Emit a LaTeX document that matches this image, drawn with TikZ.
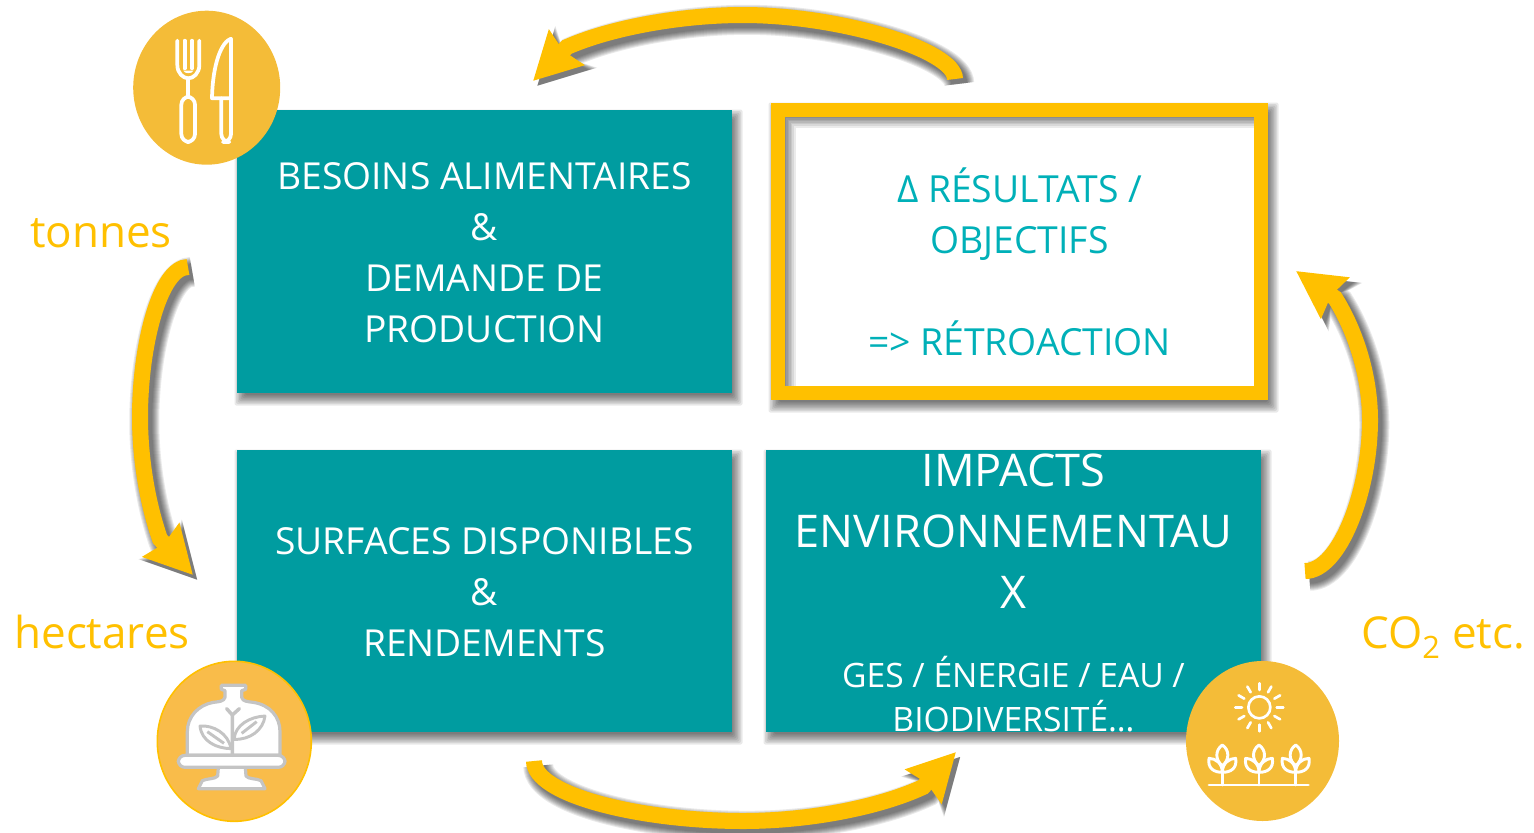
\documentclass[tikz,border=0pt]{standalone}
\usepackage{fontspec}
\setmainfont{Open Sans}
\usetikzlibrary{arrows.meta}
\definecolor{teal}{HTML}{009CA0}
\definecolor{tealtxt}{HTML}{00B0B8}
\definecolor{gold}{HTML}{FFC000}
\definecolor{disc}{HTML}{F4BC38}
\definecolor{disctwo}{HTML}{F9BC4A}
\definecolor{icongrey}{HTML}{C4C4C4}
\newcommand\fs[2]{\fontsize{#1}{#2}\selectfont}
\newcommand\boxshade[4]{%
  \foreach \e in {-4,-2.5,-1,0.5,2,3.5,5,6.5}{
    \fill[black,opacity=.085,rounded corners=1.5pt] (#1+4-\e,#2+6-\e) rectangle (#3+4+\e,#4+6+\e);
  }}
\newcommand\blockarrow[1]{%
  \foreach \e in {0,2,4,6,8,10,12,14}{
    \begin{scope}[transform canvas={xshift=3.2pt,yshift=-3.6pt}]
    \begin{scope}[transparency group,opacity=.085]
      \draw[black,line width=12pt+\e*.75pt,-{Stealth[length=35pt+\e*.4pt,width=36pt+\e*.5pt,inset=5pt+\e*.4pt]}] #1;
    \end{scope}
    \end{scope}
  }
  \draw[gold,line width=12pt,-{Stealth[length=35pt,width=36pt,inset=3pt]}] #1;}
\tikzset{
  tealbox/.style={fill=teal,text=white,inner sep=0pt,minimum width=371.25pt,minimum height=212pt,align=center,font=\fs{27.9}{38.25pt}},
  unitlabel/.style={text=gold,inner sep=0pt,anchor=base,font=\fs{33}{36pt}},
  iconline/.style={white,line width=2.8pt,line cap=round,line join=round},
  sprout/.pic={
    \draw[iconline,line width=2.2pt] (0,0)--(0,-38);
    \draw[iconline,line width=2.2pt] (0,-120) .. controls (-22,-105) and (-22,-75) .. (0,-58) .. controls (22,-75) and (22,-105) .. (0,-120);
    \draw[iconline,line width=2.2pt] (0,-38) .. controls (-25,-38) and (-45,-50) .. (-40,-80) .. controls (-20,-80) and (0,-65) .. (0,-38);
    \draw[iconline,line width=2.2pt] (0,-38) .. controls (25,-38) and (45,-50) .. (40,-80) .. controls (20,-80) and (0,-65) .. (0,-38);
  }
}
\begin{document}
\begin{tikzpicture}[x=.75pt,y=-.75pt]
\useasboundingbox (0,0) rectangle (1534,832);
% shadows of boxes
\boxshade{237}{110}{732}{393}
\boxshade{237}{450}{732}{732}
\boxshade{766}{450}{1261}{732}
\boxshade{771}{103}{1268}{400}
% boxes
\node[tealbox] (besoins) at (484.5,251.5) {\rule{0pt}{21.6pt}BESOINS ALIMENTAIRES\\\&\\DEMANDE DE\\PRODUCTION};
\node[tealbox] (surfaces) at (484.5,591) {\rule{0pt}{21.6pt}SURFACES DISPONIBLES\\\&\\RENDEMENTS};
\node[tealbox,font=\fs{33.8}{45.75pt}] (impacts) at (1013.5,591) {\rule{0pt}{27.5pt}IMPACTS\\ENVIRONNEMENTAU\\X\\[13.5pt]{\fs{25.2}{33pt}GES / ÉNERGIE / EAU /}\\[-12.5pt]{\fs{25.2}{33pt}BIODIVERSITÉ…}};
\node[draw=gold,line width=10.5pt,fill=white,inner sep=0pt,minimum width=362.25pt,minimum height=212.25pt,text=tealtxt,align=center,font=\fs{28}{38.25pt}] (resultats) at (1019.5,251.5) {\rule{0pt}{41pt}Δ RÉSULTATS /\\OBJECTIFS\\\mbox{}\\=> RÉTROACTION};
% inner shadow of framed box
\foreach \e in {1,2.5,4,5.5,7,9,11}{
  \fill[black,opacity=.08] (785,117) rectangle (1254,117+\e);
  \fill[black,opacity=.08] (785,117+\e) rectangle (785+\e,386);
}
% arrows
\coordinate (ta1) at (955,79);\coordinate (ta2) at (955,50);\coordinate (ta3) at (840,15);\coordinate (ta4) at (743,15);
\coordinate (ta5) at (680,15);\coordinate (ta6) at (610,28);\coordinate (ta7) at (567,47);\coordinate (ta8) at (533,81);
\blockarrow{(ta1) .. controls (ta2) and (ta3) .. (ta4) .. controls (ta5) and (ta6) .. (ta7) -- (ta8)}
\coordinate (ba1) at (534,761);\coordinate (ba2) at (534,795);\coordinate (ba3) at (640,821);\coordinate (ba4) at (743,821);
\coordinate (ba5) at (810,821);\coordinate (ba6) at (880,807);\coordinate (ba7) at (923,787);\coordinate (ba8) at (956,752);
\blockarrow{(ba1) .. controls (ba2) and (ba3) .. (ba4) .. controls (ba5) and (ba6) .. (ba7) -- (ba8)}
\coordinate (ra1) at (1305,571);\coordinate (ra2) at (1340,571);\coordinate (ra3) at (1370,490);\coordinate (ra4) at (1370,420);
\coordinate (ra5) at (1370,375);\coordinate (ra6) at (1355,330);\coordinate (ra7) at (1335,298);\coordinate (ra8) at (1296,271);
\blockarrow{(ra1) .. controls (ra2) and (ra3) .. (ra4) .. controls (ra5) and (ra6) .. (ra7) -- (ra8)}
\coordinate (la1) at (188,267);\coordinate (la2) at (160,267);\coordinate (la3) at (140,345);\coordinate (la4) at (140,417);
\coordinate (la5) at (140,460);\coordinate (la6) at (148,505);\coordinate (la7) at (160,539);\coordinate (la8) at (193,575);
\blockarrow{(la1) .. controls (la2) and (la3) .. (la4) .. controls (la5) and (la6) .. (la7) -- (la8)}
% discs
\fill[disc] (206.7,87.7) ellipse [x radius=73.5,y radius=77];
\fill[disctwo,draw=gold,line width=1.2pt] (234.3,741.3) ellipse [x radius=77,y radius=80];
\fill[disc] (1262.5,741) ellipse [x radius=76.5,y radius=80];
% cutlery
\begin{scope}[shift={(120,0)},x=.25pt,y=-.25pt]
  \draw[iconline] (172,122)--(172,195) .. controls (172,220) and (190,235) .. (205,235) .. controls (220,235) and (238,220) .. (238,195)--(238,122);
  \draw[iconline] (194,122)--(194,205);
  \draw[iconline] (216,122)--(216,205);
  \fill[white] (190,212) -- (220,212) .. controls (218,222) and (192,222) .. (190,212);
  \draw[iconline] (205,235)--(205,290);
  \draw[iconline,rounded corners=6pt] (184,290) rectangle (225,426);
  \draw[iconline] (333,295)--(333,116) .. controls (305,125) and (278,190) .. (276,295)--(333,295);
  \draw[iconline,rounded corners=6pt] (304,295)--(304,426)--(333,426)--(333,295);
\end{scope}
% bell jar
\begin{scope}[shift={(150,650)},x=.25pt,y=-.25pt]
  \filldraw[fill=white,draw=icongrey,line width=2.4pt,line join=round] (214,106)--(287,106)--(287,118)--(275,122)--(275,142) .. controls (278,155) and (295,155) .. (310,157) .. controls (360,165) and (390,200) .. (390,245)--(390,316)--(112,316)--(112,245) .. controls (112,200) and (145,165) .. (190,157) .. controls (205,155) and (222,155) .. (225,142)--(225,122)--(214,118)--cycle;
  \filldraw[fill=white,draw=icongrey,line width=2.4pt,line join=round] (205,352)--(203,378) .. controls (195,388) and (170,385) .. (157,392)--(145,416)--(345,416)--(333,392) .. controls (320,385) and (295,388) .. (288,378)--(286,352)--cycle;
  \filldraw[fill=white,draw=icongrey,line width=2.4pt,rounded corners=5pt] (85,316) rectangle (405,352);
  \draw[icongrey,line width=2.6pt,line cap=round] (247,316)--(247,195) (230,176)--(247,195)--(268,176);
  \draw[icongrey,line width=2.2pt,line join=round] (243,296) .. controls (235,250) and (190,225) .. (150,228) .. controls (155,275) and (200,295) .. (243,296) (172,245)--(222,280);
  \draw[icongrey,line width=2.2pt,line join=round] (252,268) .. controls (255,225) and (300,200) .. (345,198) .. controls (340,240) and (300,270) .. (252,268) (320,215)--(275,250);
\end{scope}
% sun and plants
\begin{scope}[shift={(1170,650)},x=.25pt,y=-.25pt]
  \draw[iconline,line width=2pt] (268,172) circle [radius=33];
  \foreach \a in {0,30,...,330}{
    \draw[iconline,line width=2pt] ({268+52*cos(\a)},{172+52*sin(\a)})--({268+72*cos(\a)},{172+72*sin(\a)});
  }
  \draw[iconline,line width=2.2pt] (117,405)--(415,405);
  \pic at (157,405) {sprout};
  \pic at (267,405) {sprout};
  \pic at (377,405) {sprout};
\end{scope}
% unit labels
\node[unitlabel] (tonnes) at (101,247) {tonnes};
\node[unitlabel] (hectares) at (102,648) {hectares};
\node[unitlabel] (co) at (1443,648) {CO\textsubscript{2} etc.};
\end{tikzpicture}
\end{document}
